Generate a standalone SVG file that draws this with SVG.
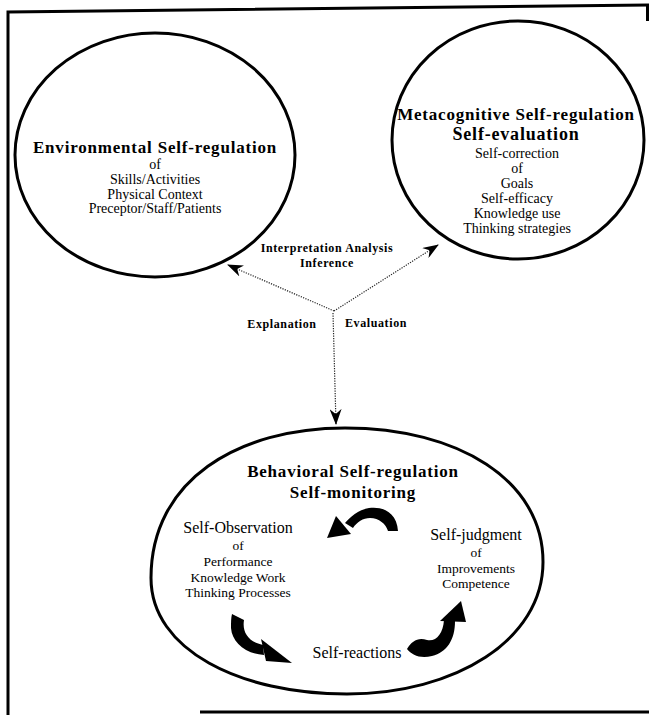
<svg xmlns="http://www.w3.org/2000/svg" width="649" height="715" viewBox="0 0 649 715">
<style>
.t{font-family:"Liberation Serif","Times New Roman",serif;fill:#000;text-anchor:middle}
.h{font-weight:bold;font-size:17px;letter-spacing:0.8px}
.r{font-size:14px}
.m{font-size:16px}
.s{font-size:13.5px}
.lb{font-weight:bold;font-size:12px;letter-spacing:0.6px}
.node{fill:#fff;stroke:#000;stroke-width:3}
.dot{fill:none;stroke:#222;stroke-width:1.2;stroke-dasharray:1.2 1.3}
.frame{fill:none;stroke:#000;stroke-width:3}
</style>
<defs>
<marker id="ah" viewBox="0 0 16 12" refX="15" refY="6" markerWidth="16" markerHeight="12" markerUnits="userSpaceOnUse" orient="auto">
<path d="M0,0 L16,6 L0,12 L5,6 Z" fill="#000"/>
</marker>
</defs>
<rect x="0" y="0" width="649" height="715" fill="#fff"/>
<g id="frame">
<polyline class="frame" points="8,715 8,12 649,5"/>
<line class="frame" x1="647.5" y1="5" x2="647.5" y2="21"/>
<line class="frame" x1="200" y1="712" x2="649" y2="712"/>
</g>
<g id="env">
<ellipse class="node" cx="155" cy="155" rx="140" ry="122"/>
<text class="t h" x="155" y="153">Environmental Self-regulation</text>
<text class="t r" x="155" y="169">of</text>
<text class="t r" x="155" y="184">Skills/Activities</text>
<text class="t r" x="155" y="199">Physical Context</text>
<text class="t r" x="155" y="213">Preceptor/Staff/Patients</text>
</g>
<g id="meta">
<ellipse class="node" cx="518" cy="140" rx="126" ry="119"/>
<text class="t h" x="516" y="120">Metacognitive Self-regulation</text>
<text class="t h" x="516" y="140" style="font-size:18px">Self-evaluation</text>
<text class="t r" x="517" y="158">Self-correction</text>
<text class="t r" x="517" y="173">of</text>
<text class="t r" x="517" y="188">Goals</text>
<text class="t r" x="517" y="203">Self-efficacy</text>
<text class="t r" x="517" y="218">Knowledge use</text>
<text class="t r" x="517" y="233">Thinking strategies</text>
</g>
<g id="beh">
<path class="node" d="M151,578 C151,480 238,428 345,428 C458,428 543,480 543,562 C543,640 455,694 347,694 C240,694 151,650 151,578 Z"/>
<text class="t h" x="353" y="477">Behavioral Self-regulation</text>
<text class="t h" x="353" y="498">Self-monitoring</text>
<text class="t m" x="238" y="533">Self-Observation</text>
<text class="t s" x="238" y="550">of</text>
<text class="t s" x="238" y="566">Performance</text>
<text class="t s" x="238" y="582">Knowledge Work</text>
<text class="t s" x="238" y="597">Thinking Processes</text>
<text class="t m" x="476" y="540">Self-judgment</text>
<text class="t s" x="476" y="557">of</text>
<text class="t s" x="476" y="573">Improvements</text>
<text class="t s" x="476" y="588">Competence</text>
<text class="t m" x="357" y="658">Self-reactions</text>
<g id="cycle" fill="#000">
<path d="M398,531 C397,512 382,506 369,508 C358,510 350,517 345,523 L353,528 C357,522 363,518 370,518 C379,518 386,524 388,531 Z"/>
<path d="M336,516 L327,538 L351,534 Z"/>
<path d="M232,614 L244,620 C242,632 248,642 263,645 L264,655 C245,654 232,642 231,628 C231,622 231,618 232,614 Z"/>
<path d="M261,639 L292,663 L266,661 Z"/>
<path d="M407,649 C412,641 418,637 427,640 C436,642 443,634 444,620 L455,621 C455,640 447,652 432,656 C420,659 412,655 407,649 Z"/>
<path d="M440,621 L461,601 L466,622 Z"/>
</g>
</g>
<g id="connectors">
<line class="dot" x1="334" y1="311" x2="228" y2="265" marker-end="url(#ah)"/>
<line class="dot" x1="334" y1="311" x2="438" y2="245" marker-end="url(#ah)"/>
<line class="dot" x1="333" y1="313" x2="336" y2="424" marker-end="url(#ah)"/>
</g>
<g id="labels">
<text class="t lb" x="327" y="252">Interpretation Analysis</text>
<text class="t lb" x="327" y="267">Inference</text>
<text class="t lb" x="282" y="328">Explanation</text>
<text class="t lb" x="376" y="327">Evaluation</text>
</g>
</svg>
